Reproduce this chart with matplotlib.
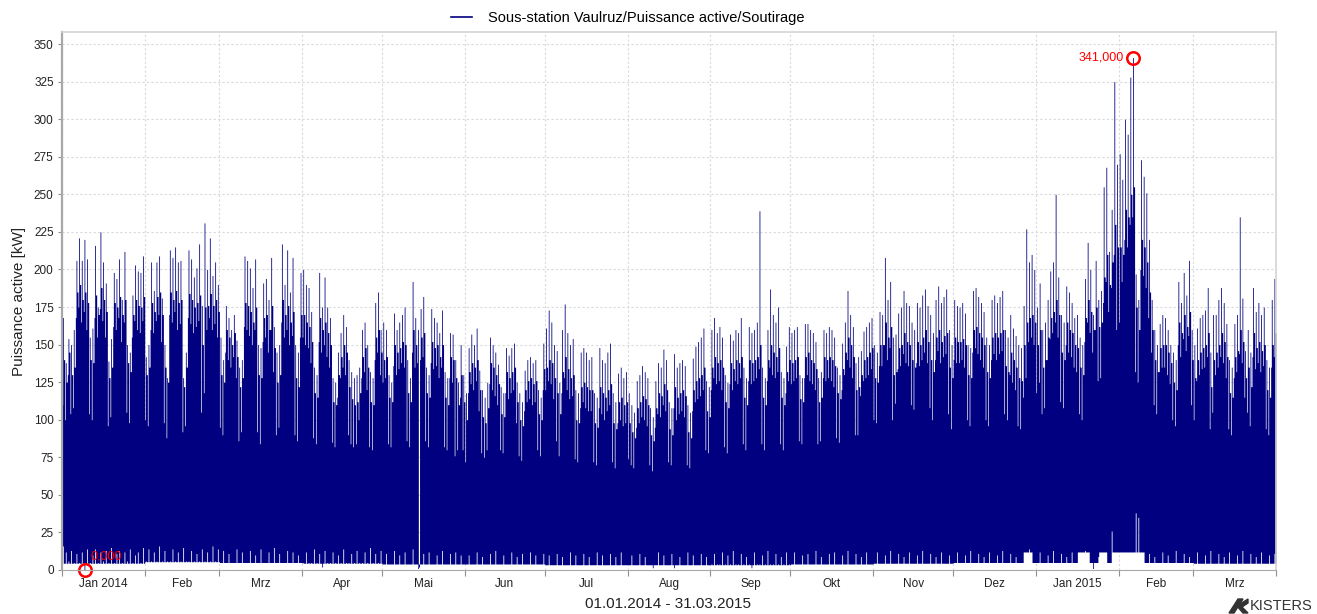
import numpy as np
import pandas as pd
import matplotlib
matplotlib.use('Agg')
import matplotlib.pyplot as plt
import matplotlib.dates as mdates
from matplotlib.lines import Line2D
from matplotlib.patches import Polygon

# each day is drawn as three columns: night max, day max (peak), evening max (body)
# "low" is the minimum seen in the day column, the other columns sit on the monthly base

peak_jan14 = [168,138,154,150,160,206,221,206,220,207,155,161,216,175,225,205,191,139,154,198,194,207,180,212,150,145,183,203,199,198,209]
body_jan14 = [140,125,145,130,135,185,190,180,185,178,140,138,183,170,188,180,172,128,135,178,175,182,170,180,138,132,170,180,176,175,182]
night_jan14 = [110,100,130,104,108,168,175,165,172,160,104,100,168,155,174,166,155,96,102,162,160,168,152,165,105,98,155,166,160,158,166]
low_jan14 = [16,12,6,13,5,11,5,12,0,14,5,10,14,5,12,6,13,5,15,5,11,13,5,12,6,14,5,10,12,5,15]

peak_feb14 = [142,150,205,186,205,209,181,150,128,213,208,215,205,206,128,145,213,207,195,201,217,176,231,200,221,196,205,190]
body_feb14 = [130,135,178,172,182,185,170,135,125,185,180,186,178,180,122,135,184,180,175,178,183,150,175,176,184,176,180,172]
night_feb14 = [100,96,160,158,166,170,152,98,88,170,165,172,160,164,92,96,168,164,158,162,166,105,118,160,168,160,164,155]
low_feb14 = [6,14,6,12,6,16,6,13,6,6,14,6,12,6,15,6,6,13,6,11,6,14,6,12,6,16,6,14]

peak_mar14 = [155,140,176,168,160,170,153,135,140,209,206,201,188,207,150,148,191,194,180,208,162,145,150,217,190,213,185,208,150,145,198]
body_mar14 = [130,125,160,155,150,158,142,122,128,178,176,172,165,175,130,128,168,170,160,176,148,125,130,180,170,176,165,172,128,122,170]
night_mar14 = [95,90,145,140,135,142,128,86,92,162,160,156,150,160,92,84,152,155,145,160,132,90,95,165,155,160,150,156,90,86,155]
low_mar14 = [5,13,5,11,5,5,14,5,12,5,5,13,5,10,5,14,5,5,12,5,15,5,11,5,5,13,5,12,5,10,5]

peak_apr14 = [200,190,188,172,135,130,198,175,195,175,168,128,125,145,158,170,162,140,132,128,130,135,160,165,150,132,128,178,185,160]
body_apr14 = [170,165,162,152,118,115,168,160,165,158,150,112,110,130,142,150,145,122,114,110,112,118,142,148,135,112,110,155,160,145]
night_apr14 = [155,150,148,138,88,84,152,145,150,142,135,85,82,115,128,135,130,90,84,82,84,100,128,132,120,82,80,140,145,130]
low_apr14 = [5,12,5,5,14,5,11,2,13,5,5,12,5,10,5,14,5,5,11,5,13,5,5,12,5,15,5,11,5,13]

peak_may14 = [165,160,130,125,171,160,165,170,175,140,128,192,168,160,174,182,135,130,174,168,165,158,173,132,128,158,157,140,125,150,130]
body_may14 = [140,142,115,112,150,145,148,152,150,118,112,160,150,2,155,158,118,115,152,148,150,142,150,115,110,142,140,128,110,130,112]
night_may14 = [125,128,84,82,136,130,134,138,135,86,82,145,135,138,140,142,86,82,138,134,136,128,135,82,80,128,125,76,80,115,80]
low_may14 = [4,11,4,4,13,4,10,4,12,4,4,14,4,1,4,11,4,12,4,4,10,4,13,4,4,11,4,12,4,10,4]

peak_jun14 = [118,148,157,150,161,133,120,115,125,155,150,145,137,122,118,148,143,148,151,125,118,112,133,140,142,138,140,120,115,151]
body_jun14 = [100,132,138,135,140,120,102,98,108,138,135,130,124,104,102,132,128,132,135,112,100,96,120,126,128,124,126,104,100,134]
night_jun14 = [72,118,124,120,126,106,78,75,80,124,120,116,110,80,78,118,114,118,120,98,76,73,106,112,114,110,112,80,76,120]
low_jun14 = [4,10,4,4,12,4,9,4,4,11,4,13,4,4,10,4,4,12,4,9,4,11,4,4,12,4,10,4,4,11]

peak_jul14 = [161,173,165,150,146,125,160,177,158,150,154,120,118,145,148,145,140,142,118,115,148,140,138,145,151,118,112,131,135,128,132]
body_jul14 = [135,140,138,128,118,104,132,142,134,128,130,100,98,122,125,122,120,120,98,95,122,118,115,120,124,98,94,112,115,110,112]
night_jul14 = [120,126,124,114,86,76,118,128,120,114,116,74,72,108,112,108,106,106,72,70,108,104,100,106,110,72,68,98,100,96,98]
low_jul14 = [3.5,10,3.5,3.5,11,3.5,9,3.5,3.5,12,3.5,10,3.5,3.5,11,3.5,9,3.5,3.5,12,3.5,10,3.5,3.5,11,3.5,9,3.5,12,3.5,3.5]

peak_aug14 = [118,110,105,126,130,136,132,128,108,102,126,138,135,147,140,112,108,144,135,138,140,136,110,105,141,149,152,155,161,126,122]
body_aug14 = [98,92,88,108,112,116,114,110,90,86,108,118,116,124,120,94,90,122,115,118,120,116,92,88,120,126,128,130,135,106,102]
night_aug14 = [74,70,68,95,98,102,100,96,70,66,95,104,102,110,106,72,70,108,100,104,106,102,70,68,106,112,114,116,120,80,78]
low_aug14 = [3.5,10,3.5,3.5,11,3.5,9,3.5,3.5,1.5,3.5,12,3.5,10,3.5,3.5,11,1.5,3.5,9,3.5,3.5,12,3.5,10,3.5,3.5,11,3.5,9,3.5]

peak_sep14 = [160,168,158,162,155,130,125,157,153,160,158,168,135,128,162,158,160,165,239,135,128,160,187,170,165,175,132,128,149,162]
body_sep14 = [135,142,138,140,135,112,108,138,134,140,138,142,115,110,140,138,140,142,150,115,110,140,150,145,142,148,115,110,132,140]
night_sep14 = [120,128,124,126,120,82,78,124,120,126,124,128,84,80,126,124,126,128,134,84,80,126,135,130,128,132,84,80,118,126]
low_sep14 = [4,11,4,4,12,4,10,4,13,4,4,11,4,9,4,1.5,12,4,4,10,4,13,4,4,11,4,9,4,12,4]

peak_oct14 = [158,160,162,130,128,164,164,160,158,152,128,132,160,158,162,160,155,135,130,151,165,186,170,162,138,142,146,159,162,165,168]
body_oct14 = [138,140,142,114,112,142,145,140,138,134,112,115,142,140,142,140,136,118,114,134,145,155,150,142,120,122,130,140,142,145,148]
night_oct14 = [124,126,128,86,84,128,130,126,124,120,84,86,128,126,128,126,122,88,85,120,130,140,135,128,90,90,116,126,128,130,134]
low_oct14 = [4,12,4,4,10,4,11,4,4,13,4,9,4,4,11,4,12,4,4,10,4,13,4,4,11,4,9,4,12,4,4]

peak_nov14 = [150,145,172,170,208,180,192,155,157,171,175,186,178,176,165,160,178,175,183,187,176,170,158,180,189,178,182,187,160,150]
body_nov14 = [128,125,150,150,165,155,162,130,132,148,150,158,152,150,140,135,152,150,155,160,152,140,132,155,160,152,156,158,135,128]
night_nov14 = [100,98,136,136,150,140,148,100,111,134,136,144,138,136,110,107,138,136,140,145,138,108,100,140,146,138,142,144,104,94]
low_nov14 = [4.5,12,4.5,4.5,10,4.5,13,4.5,4.5,11,4.5,9,4.5,12,4.5,4.5,10,4.5,13,4.5,4.5,11,4.5,9,4.5,12,4.5,4.5,10,4.5]

peak_dec14 = [180,176,175,178,171,150,148,186,188,182,178,172,155,150,180,183,178,182,186,160,155,170,161,156,150,148,176,227,205,210,200]
body_dec14 = [155,152,152,154,150,130,128,160,162,158,155,150,132,128,155,158,155,158,160,136,132,145,140,135,128,126,150,165,168,170,165]
night_dec14 = [140,138,138,140,135,100,96,145,148,144,140,135,100,96,140,144,140,144,146,104,100,130,125,120,96,94,115,128,152,155,150]
low_dec14 = [5,12,5,5,10,5,13,5,5,11,5,9,5,12,5,5,10,5,13,5,5,11,5,9,5,5,12,5,14,5,5]

peak_jan15 = [175,191,160,165,180,199,205,250,195,170,165,189,185,178,168,170,155,150,194,218,200,170,206,180,186,255,268,212,240,325,270]
body_jan15 = [150,160,135,140,155,168,172,180,170,145,140,165,160,158,150,148,135,130,168,180,172,160,175,162,165,195,210,190,205,230,215]
night_jan15 = [118,125,104,108,140,154,158,165,155,112,108,150,145,142,135,132,104,100,152,165,158,145,160,126,128,178,192,172,188,210,160]
low_jan15 = [5,12,5,5,10,5,13,5,5,11,5,9,5,12,5,5,10,5,13,5,5,1,5,9,5,5,12,5,26,5,5]

peak_feb15 = [277,260,300,290,328,341,197,180,273,262,251,220,180,160,150,164,170,168,160,150,145,140,192,178,198,183,206,160]
body_feb15 = [215,210,240,235,250,255,175,160,220,215,205,185,160,140,132,148,150,150,145,138,125,120,165,158,170,162,172,140]
night_feb15 = [165,192,220,215,230,235,132,125,200,196,188,168,145,110,104,132,135,135,130,124,100,96,150,142,154,146,156,110]
low_feb15 = [12,12,12,12,12,12,38,35,12,12,5,11,5,9,5,5,12,5,10,5,5,13,5,5,11,5,9,5]

peak_mar15 = [150,161,168,170,173,188,145,170,170,180,188,178,164,140,135,164,170,235,181,146,160,145,188,172,178,170,175,140,135,180,194]
body_mar15 = [128,140,145,148,150,158,122,140,145,150,158,152,142,118,115,142,146,160,152,128,135,122,158,148,152,146,150,120,115,150,158]
night_mar15 = [100,126,130,134,135,142,94,105,130,135,142,138,128,94,90,128,132,144,138,115,105,96,142,134,138,132,136,94,90,135,142]
low_mar15 = [4.5,12,4.5,4.5,10,4.5,13,4.5,4.5,11,4.5,9,4.5,12,4.5,4.5,10,4.5,13,4.5,4.5,11,4.5,9,4.5,12,4.5,4.5,10,4.5,11]

base_level = [4.5, 5.5, 5, 4.5, 4, 4, 3.5, 3.5, 3.5, 4, 4.5, 5, 5, 5, 4.5]

# periods where the minimum stays around 12 kW (white blocks at the bottom)
floor_start = ['2014-12-27 12:00', '2015-01-16 12:00', '2015-01-24 12:00', '2015-01-29 12:00']
floor_end = ['2014-12-30 08:00', '2015-01-20 14:00', '2015-01-27 12:00', '2015-02-10 08:00']
floor_level = [12, 12, 12, 12]

peak_max = ('2015-02-06 12:00', 341.0)
peak_min = ('2014-01-09 12:00', 0.0)

month_labels = ['Jan 2014', 'Feb', 'Mrz', 'Apr', 'Mai', 'Jun', 'Jul', 'Aug',
                'Sep', 'Okt', 'Nov', 'Dez', 'Jan 2015', 'Feb', 'Mrz']

peaks = [peak_jan14, peak_feb14, peak_mar14, peak_apr14, peak_may14, peak_jun14, peak_jul14, peak_aug14,
         peak_sep14, peak_oct14, peak_nov14, peak_dec14, peak_jan15, peak_feb15, peak_mar15]
bodies = [body_jan14, body_feb14, body_mar14, body_apr14, body_may14, body_jun14, body_jul14, body_aug14,
          body_sep14, body_oct14, body_nov14, body_dec14, body_jan15, body_feb15, body_mar15]
nights = [night_jan14, night_feb14, night_mar14, night_apr14, night_may14, night_jun14, night_jul14, night_aug14,
          night_sep14, night_oct14, night_nov14, night_dec14, night_jan15, night_feb15, night_mar15]
lows = [low_jan14, low_feb14, low_mar14, low_apr14, low_may14, low_jun14, low_jul14, low_aug14,
        low_sep14, low_oct14, low_nov14, low_dec14, low_jan15, low_feb15, low_mar15]

plt.rcParams['font.family'] = ['Liberation Sans', 'DejaVu Sans']
navy = '#000080'

days = pd.date_range('2014-01-01', '2015-03-31', freq='D')
peak = np.concatenate(peaks).astype(float)
body = np.concatenate(bodies).astype(float)
night = np.concatenate(nights).astype(float)
low = np.concatenate(lows).astype(float)
base = np.concatenate([[b] * len(p) for b, p in zip(base_level, peaks)])

# column layout inside a day: night column, day column, evening column
d0 = mdates.date2num(days)
x = (d0[:, None] + np.array([0, 0.25, 0.55])).ravel()
x = np.append(x, d0[-1] + 1)
top = np.column_stack([night, peak, body]).ravel()
top = np.append(top, top[-1])
bot = np.column_stack([base, low, base]).ravel()
bot = np.append(bot, bot[-1])
for s, e, v in zip(floor_start, floor_end, floor_level):
    m = (x >= mdates.date2num(pd.Timestamp(s))) & (x < mdates.date2num(pd.Timestamp(e)))
    bot[m] = np.maximum(bot[m], v)

fig = plt.figure(figsize=(13.17, 6.14), dpi=100)
ax = fig.add_axes([62 / 1317, 1 - 570 / 614, (1276 - 62) / 1317, (570 - 32) / 614])

ax.fill_between(x, bot, top, step='post', color=navy, linewidth=0)

# month ticks at starts, labels in the middle of each month
starts = mdates.date2num(pd.date_range('2014-01-01', '2015-04-01', freq='MS'))
mids = (starts[:-1] + starts[1:]) / 2
ax.set_xticks(starts)
ax.set_xticks(mids, minor=True)
ax.set_xticklabels(month_labels, minor=True)
ax.tick_params(axis='x', which='major', length=4, color='#909090', labelbottom=False)
ax.tick_params(axis='x', which='minor', length=0, pad=6, labelsize=8.5, labelcolor='#222222')
ax.set_xlim(starts[0], starts[-1])

ax.set_yticks(np.arange(0, 351, 25))
ax.set_ylim(0, 358)
ax.tick_params(axis='y', length=3, pad=3, labelsize=8.5, color='#909090', labelcolor='#222222')

ax.grid(True, color='#d9d9d9', linestyle=(0, (2, 2)), linewidth=0.8)
ax.set_axisbelow(True)
for side in ['top', 'right']:
    ax.spines[side].set_color('#d4d4d4')
    ax.spines[side].set_linewidth(1.2)
ax.spines['left'].set_color('#a8a8a8')
ax.spines['left'].set_linewidth(1.6)
ax.spines['bottom'].set_color('#a8a8a8')

ax.set_ylabel('Puissance active [kW]', fontsize=11, color='#222222')
ax.yaxis.set_label_coords(-(62 - 26) / 1214, 0.5)
fig.text(668 / 1317, 1 - 604 / 614, '01.01.2014 - 31.03.2015', ha='center', va='center',
         fontsize=11, color='#222222')

handle = Line2D([], [], color=navy, linewidth=1.2)
fig.legend([handle], ['Sous-station Vaulruz/Puissance active/Soutirage'], loc='center',
           bbox_to_anchor=(627.5 / 1317, 1 - 18 / 614), frameon=False, fontsize=10.5,
           handlelength=1.45, handletextpad=1.1)

# extreme value markers
xmax = mdates.date2num(pd.Timestamp(peak_max[0]))
ax.plot(xmax, peak_max[1], marker='o', ms=9, mfc='none', mec='red', mew=1.8, clip_on=False)
ax.annotate('341,000', xy=(xmax, peak_max[1]), xytext=(-6.5, 0), textcoords='offset points',
            ha='right', va='center', color='red', fontsize=9)
xmin = mdates.date2num(pd.Timestamp(peak_min[0]))
ax.plot(xmin, peak_min[1], marker='o', ms=9, mfc='none', mec='red', mew=1.8, clip_on=False)
ax.annotate('0,000', xy=(xmin, peak_min[1]), xytext=(4.3, 10), textcoords='offset points',
            ha='left', va='center', color='red', fontsize=9)

# logo bottom right
W, H = 1317, 614
def px(pts):
    return [(a / W, 1 - b / H) for a, b in pts]
fig.add_artist(Polygon(px([(1229, 613), (1234, 613), (1243, 599), (1238, 599)]),
                       closed=True, color='#333333', transform=fig.transFigure))
fig.add_artist(Polygon(px([(1237, 606), (1248, 599), (1248, 603), (1242, 607), (1248, 613), (1243, 613)]),
                       closed=True, color='#333333', transform=fig.transFigure))
fig.text(1250 / W, 1 - 606 / H, 'KISTERS', ha='left', va='center', fontsize=10.5, color='#333333')

fig.savefig('out.png', dpi=100)
